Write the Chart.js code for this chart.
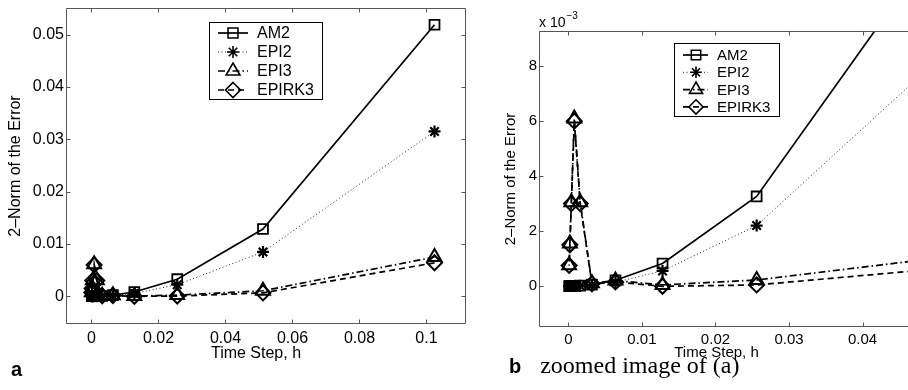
<!DOCTYPE html>
<html><head><meta charset="utf-8">
<script src="https://cdn.jsdelivr.net/npm/chart.js@4.4.0/dist/chart.umd.min.js"></script>
<style>
html,body{margin:0;padding:0;background:#fff;overflow:hidden;width:908px;height:390px;position:relative;}
#wa{position:absolute;left:0;top:0;width:470px;height:370px;}
#wb{position:absolute;left:470px;top:0;width:470px;height:370px;}
.sans{position:absolute;font-family:"Liberation Sans",Arial,Helvetica,sans-serif;color:#000;white-space:nowrap;}
.serif{font-family:"Liberation Serif","DejaVu Serif",serif;font-weight:normal;}
</style></head><body>
<div id="wa"><canvas id="ca" width="470" height="370"></canvas></div>
<div id="wb"><canvas id="cb" width="470" height="370"></canvas></div>
<div class="sans" style="left:539px;top:14px;font-size:14px;line-height:16px;">x 10<span style="position:relative;top:-8px;font-size:10px;margin-left:1px;">−3</span></div>
<div class="sans" style="left:11px;top:357px;font-size:20px;line-height:24px;font-weight:bold;">a</div>
<div class="sans" style="left:509px;top:353px;font-size:20px;line-height:24px;"><b>b</b><span class="serif" style="font-size:24px;margin-left:19px;">zoomed image of (a)</span></div>
<script>
// ---------------- data ----------------
const timeSteps = [0.1024, 0.0512, 0.0256, 0.0128, 0.0064, 0.0032, 0.0016, 0.0008, 0.0004, 0.0002, 0.0001];
const am2    = [0.0519, 0.01286, 0.00326, 0.00082, 0.00021, 0.00005, 0.000013, 0.000003, 0.000001, 0.0000002, 0.00000005];
const epi2   = [0.0315, 0.00847, 0.0022, 0.00055, 0.00014, 0.000035, 0.000009, 0.000002, 0.0000006, 0.00000015, 0.00000004];
const epi3   = [0.0075, 0.00105, 0.00022, 0.00004, 0.0002, 0.0001, 0.00305, 0.0061, 0.00305, 0.00155, 0.00076];
const epirk3 = [0.0064, 0.00065, 0.00004, -0.00001, 0.00015, 0.00008, 0.003, 0.006, 0.003, 0.0015, 0.00075];
const seriesLabels = ['AM2', 'EPI2', 'EPI3', 'EPIRK3'];

const xTicksA = [0, 0.02, 0.04, 0.06, 0.08, 0.1];
const xTickLabelsA = ['0', '0.02', '0.04', '0.06', '0.08', '0.1'];
const yTicksA = [0, 0.01, 0.02, 0.03, 0.04, 0.05];
const yTickLabelsA = ['0', '0.01', '0.02', '0.03', '0.04', '0.05'];

const xTicksB = [0, 0.01, 0.02, 0.03, 0.04];
const xTickLabelsB = ['0', '0.01', '0.02', '0.03', '0.04'];
const yTicksB = [0, 2, 4, 6, 8];          // in units of 10^-3
const yTickLabelsB = ['0', '2', '4', '6', '8'];

const xTitle = 'Time Step, h';
const yTitle = '2–Norm of the Error';

// ---------------- helpers ----------------
const FONT = '"Liberation Sans", Arial, Helvetica, sans-serif';
const styles = [
  {pointStyle: 'rect',     pointRadius: 7,   pointBorderWidth: 1.8, borderDash: [],             borderWidth: 1.7, borderColor: '#000'},
  {pointStyle: 'star',     pointRadius: 6,   pointBorderWidth: 2.2, borderDash: [1, 2.5],       borderWidth: 1.0, borderColor: '#222'},
  {pointStyle: 'triangle', pointRadius: 8,   pointBorderWidth: 2.0, borderDash: [7, 3, 1.5, 3], borderWidth: 1.7, borderColor: '#000'},
  {pointStyle: 'rectRot',  pointRadius: 7.5, pointBorderWidth: 2.0, borderDash: [6, 4],         borderWidth: 1.7, borderColor: '#000'}
];

function makeDatasets(scale) {
  const series = [am2, epi2, epi3, epirk3];
  return series.map((s, i) => Object.assign({
    label: seriesLabels[i],
    data: timeSteps.map((h, j) => ({x: h, y: s[j] * scale})),
    pointBackgroundColor: 'rgba(0,0,0,0)',
    pointBorderColor: '#000',
    fill: false,
    tension: 0
  }, styles[i]));
}

function drawMarker(ctx, style, x, y, r, bw) {
  ctx.save(); ctx.setLineDash([]); ctx.lineWidth = bw; ctx.strokeStyle = '#000'; ctx.beginPath();
  if (style === 'rect') {
    const s = Math.SQRT1_2 * r; ctx.rect(x - s, y - s, 2 * s, 2 * s);
  } else if (style === 'triangle') {
    let a = 0;
    ctx.moveTo(x + Math.sin(a) * r, y - Math.cos(a) * r);
    a += 2 * Math.PI / 3; ctx.lineTo(x + Math.sin(a) * r, y - Math.cos(a) * r);
    a += 2 * Math.PI / 3; ctx.lineTo(x + Math.sin(a) * r, y - Math.cos(a) * r);
    ctx.closePath();
  } else if (style === 'rectRot') {
    ctx.moveTo(x, y - r); ctx.lineTo(x + r, y); ctx.lineTo(x, y + r); ctx.lineTo(x - r, y); ctx.closePath();
  } else if (style === 'star') {
    for (let k = 0; k < 4; k++) {
      const a = k * Math.PI / 4;
      ctx.moveTo(x - Math.cos(a) * r, y - Math.sin(a) * r);
      ctx.lineTo(x + Math.cos(a) * r, y + Math.sin(a) * r);
    }
  }
  ctx.stroke(); ctx.restore();
}

const framePlugin = {
  id: 'frameTicks',
  afterDatasetsDraw(chart, args, o) {
    const {ctx, chartArea: a, scales: {x, y}} = chart;
    ctx.save();
    ctx.strokeStyle = '#555'; ctx.lineWidth = 1; ctx.setLineDash([]);
    ctx.beginPath();
    const L = Math.round(a.left) + 0.5, R = Math.round(a.right) - 0.5, T = Math.round(a.top) + 0.5, B = Math.round(a.bottom) - 0.5;
    ctx.moveTo(L, T); ctx.lineTo(R, T); ctx.lineTo(R, B); ctx.lineTo(L, B); ctx.closePath();
    x.ticks.forEach(t => {
      const p = Math.round(x.getPixelForValue(t.value)) + 0.5;
      ctx.moveTo(p, B); ctx.lineTo(p, B - o.len);
      ctx.moveTo(p, T); ctx.lineTo(p, T + o.len);
    });
    y.ticks.forEach(t => {
      const p = Math.round(y.getPixelForValue(t.value)) + 0.5;
      ctx.moveTo(L, p); ctx.lineTo(L + o.len, p);
      ctx.moveTo(R, p); ctx.lineTo(R - o.len, p);
    });
    ctx.stroke();
    // axis titles
    ctx.fillStyle = '#000';
    ctx.font = o.titleSize + 'px ' + FONT;
    ctx.textAlign = 'center'; ctx.textBaseline = 'alphabetic';
    ctx.fillText(o.xTitle, (a.left + a.right) / 2 + o.xTitleDx, o.xTitleY);
    ctx.translate(o.yTitleX, (a.top + a.bottom) / 2);
    ctx.rotate(-Math.PI / 2);
    ctx.textBaseline = 'middle';
    ctx.fillText(o.yTitle, 0, 0);
    ctx.restore();
  },
  afterDraw(chart, args, o) {
    const g = o.legend, ctx = chart.ctx;
    ctx.save();
    ctx.fillStyle = '#fff'; ctx.fillRect(g.x, g.y, g.w, g.h);
    ctx.strokeStyle = '#000'; ctx.lineWidth = 1; ctx.setLineDash([]);
    ctx.strokeRect(g.x + 0.5, g.y + 0.5, g.w, g.h);
    chart.data.datasets.forEach((ds, i) => {
      const cy = g.y + g.first + i * g.row;
      ctx.save();
      ctx.strokeStyle = ds.borderColor; ctx.lineWidth = ds.borderWidth;
      ctx.setLineDash(ds.borderDash || []);
      ctx.beginPath(); ctx.moveTo(g.x + g.l0, cy); ctx.lineTo(g.x + g.l1, cy); ctx.stroke();
      ctx.restore();
      drawMarker(ctx, ds.pointStyle, g.x + g.m, cy, ds.pointRadius * g.ms, 1.6);
      ctx.fillStyle = '#000'; ctx.font = g.font + 'px ' + FONT;
      ctx.textAlign = 'left'; ctx.textBaseline = 'middle';
      ctx.fillText(ds.label, g.x + g.t, cy + 1);
    });
    ctx.restore();
  }
};

function axisCfg(min, max, ticks, labels, size, pad, fitKey, fitVal) {
  return {
    type: 'linear', min: min, max: max,
    afterBuildTicks: ax => { ax.ticks = ticks.map(v => ({value: v})); },
    afterFit: ax => {
      ax[fitKey] = fitVal;
      ax.paddingLeft = 0; ax.paddingRight = 0; ax.paddingTop = 0; ax.paddingBottom = 0;
    },
    grid: {display: false, drawTicks: false},
    border: {display: false},
    ticks: {
      autoSkip: false, maxRotation: 0, padding: pad, color: '#000',
      font: {family: FONT, size: size},
      callback: (v, i) => labels[i]
    }
  };
}

Chart.defaults.animation = false;

new Chart(document.getElementById('ca'), {
  type: 'line',
  data: {datasets: makeDatasets(1)},
  options: {
    responsive: false, devicePixelRatio: 1,
    layout: {autoPadding: false, padding: {top: 8, left: 0, right: 4, bottom: 0}},
    plugins: {
      legend: {display: false}, tooltip: {enabled: false},
      frameTicks: {
        len: 4, titleSize: 16, xTitle: xTitle, yTitle: yTitle,
        xTitleDx: -10, xTitleY: 358, yTitleX: 16,
        legend: {x: 209, y: 22, w: 113, h: 77, first: 11, row: 19, l0: 9, l1: 39, m: 24, t: 48, font: 16, ms: 1}
      }
    },
    scales: {
      x: axisCfg(-0.0076, 0.1118, xTicksA, xTickLabelsA, 16, 5, 'height', 46),
      y: axisCfg(-0.0053, 0.0551, yTicksA, yTickLabelsA, 16, 2, 'width', 66)
    }
  },
  plugins: [framePlugin]
});

new Chart(document.getElementById('cb'), {
  type: 'line',
  data: {datasets: makeDatasets(1000)},
  options: {
    responsive: false, devicePixelRatio: 1,
    layout: {autoPadding: false, padding: {top: 31, left: 0, right: 26, bottom: 0}},
    plugins: {
      legend: {display: false}, tooltip: {enabled: false},
      frameTicks: {
        len: 4, titleSize: 15, xTitle: xTitle, yTitle: yTitle,
        xTitleDx: -10, xTitleY: 357, yTitleX: 41,
        legend: {x: 204, y: 43, w: 105, h: 73, first: 12, row: 17.3, l0: 9, l1: 34, m: 22, t: 43, font: 15, ms: 0.95}
      }
    },
    scales: {
      x: axisCfg(-0.004, 0.047, xTicksB, xTickLabelsB, 15, 4, 'height', 43),
      y: axisCfg(-1.49, 9.28, yTicksB, yTickLabelsB, 15, 2, 'width', 69)
    }
  },
  plugins: [framePlugin]
});
</script>
</body></html>
